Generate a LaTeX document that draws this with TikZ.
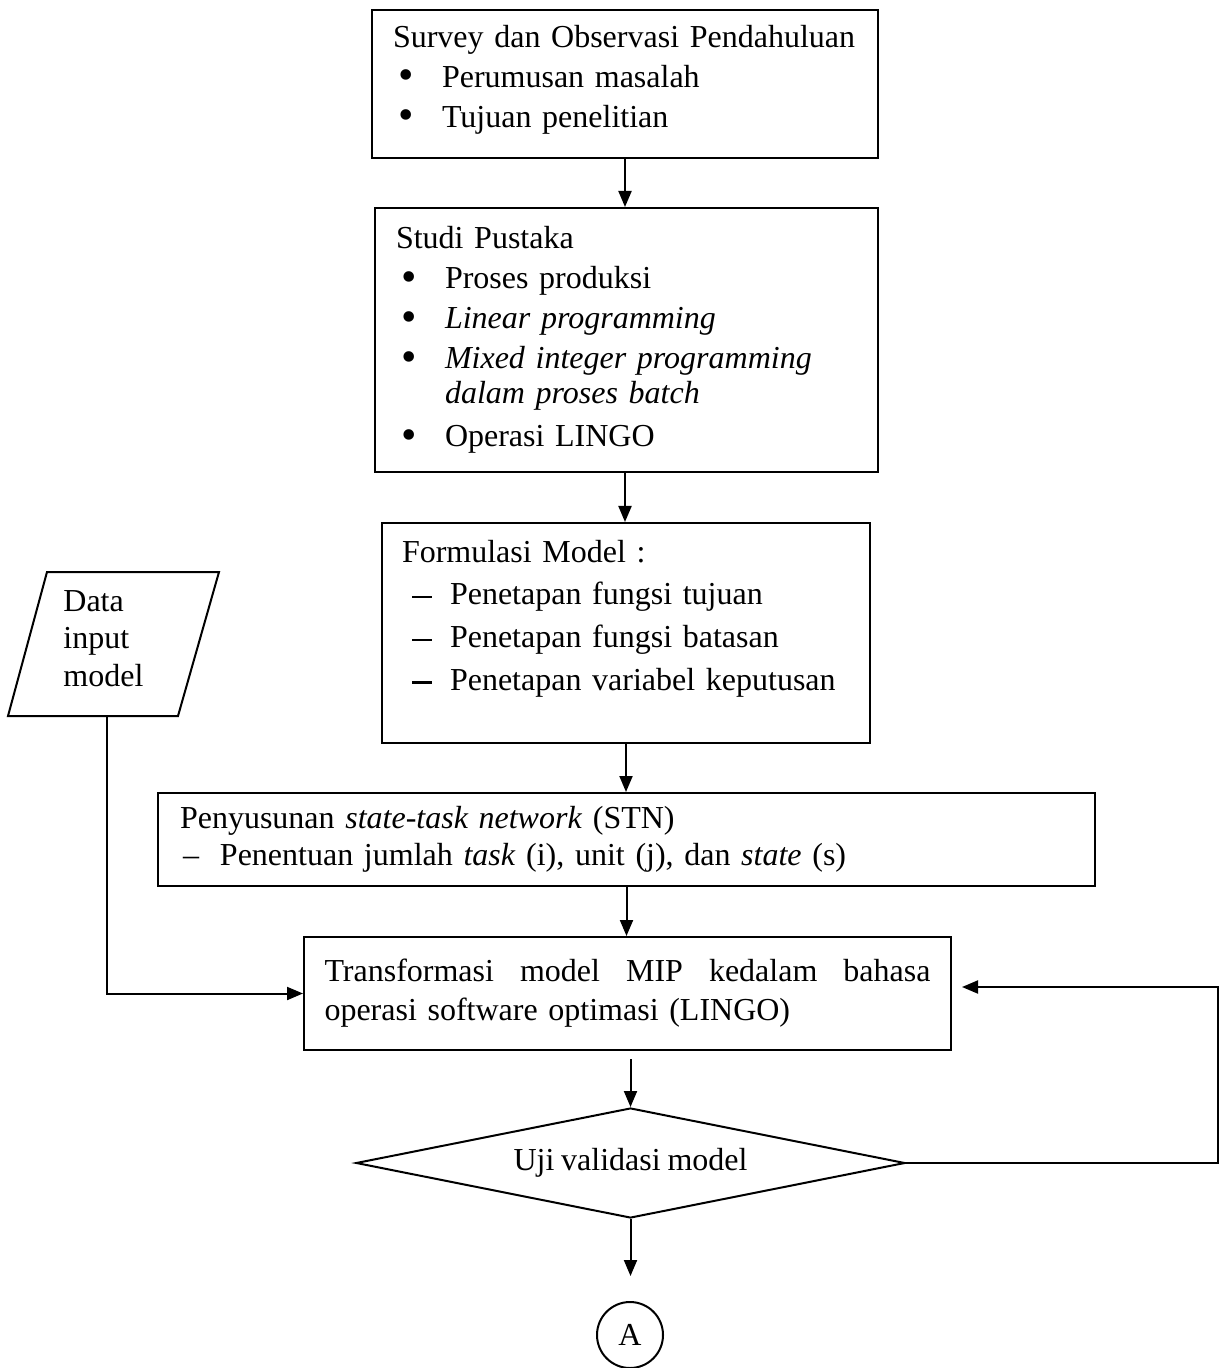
\documentclass[tikz,border=0pt]{standalone}
\usepackage{fontspec}
\setmainfont[WordSpace=0.85]{Liberation Serif}
\usetikzlibrary{arrows.meta,shapes.geometric,positioning}

\newcommand{\bul}{\makebox[24.5pt][l]{\hspace{2.5pt}\raisebox{-1.2pt}{\fontsize{22}{20}\selectfont\textbullet}}}
\newcommand{\mindash}{\makebox[24pt][l]{\hspace{5pt}\rule[3.2pt]{10pt}{1.2pt}}}

\tikzset{
    stepbox/.style={draw, rectangle, line width=1pt, align=left, inner sep=0pt,
        font=\fontsize{16}{20}\selectfont},
    flowline/.style={line width=1pt, -{Triangle[length=8pt,width=6.5pt]}}
}

\begin{document}
\begin{tikzpicture}[x=0.5pt,y=-0.5pt]

                \useasboundingbox (0,0) rectangle (1222,1368);

                % Process boxes
                \node[stepbox, minimum width=253pt, minimum height=74pt, text width=232pt] (survey) at (625,84)
                    {Survey dan Observasi Pendahuluan\\
                     \bul Perumusan masalah\\
                     \bul Tujuan penelitian\\[-12.5pt]\mbox{}};
                \node[stepbox, minimum width=251.5pt, minimum height=132pt, text width=230.5pt] (pustaka) at (626.5,340)
                    {Studi Pustaka\\
                     \bul Proses produksi\\
                     \bul \textit{Linear programming}\\
                     \bul \textit{Mixed integer programming}\\[-2.5pt]
                     \hspace*{24.5pt}\textit{dalam proses batch}\\[1.5pt]
                     \bul Operasi LINGO};
                \node[stepbox, minimum width=244pt, minimum height=110pt, text width=224pt] (formulasi) at (626,633)
                    {Formulasi Model :\\[1.3pt]
                     \mindash Penetapan fungsi tujuan\\[1.3pt]
                     \mindash Penetapan fungsi batasan\\[1.3pt]
                     \mindash Penetapan variabel keputusan\\[-2pt]\mbox{}};
                \node[stepbox, minimum width=468.5pt, minimum height=46.5pt, text width=446.5pt] (stn) at (626.5,839.5)
                    {Penyusunan \textit{state-task network} (STN)\\[-1.5pt]
                     \makebox[20pt][l]{\hspace{1.5pt}--}Penentuan jumlah \textit{task} (i), unit (j), dan \textit{state} (s)};
                \node[stepbox, minimum width=323.5pt, minimum height=56.5pt, text width=303pt] (trans) at (627.5,993.5)
                    {Transformasi\hfill model\hfill MIP\hfill kedalam\hfill bahasa\\[-0.5pt]
                     operasi software optimasi (LINGO)};

                % Decision and connector
                \node[draw, diamond, aspect=5, line width=1pt, inner sep=0pt, minimum width=274.5pt, minimum height=55pt,
                    font=\fontsize{16}{20}\selectfont] (uji) at (630.5,1163) {Uji validasi model};
                \node[draw, circle, line width=1pt, inner sep=0pt, minimum size=33pt,
                    font=\fontsize{16}{20}\selectfont] (conA) at (630,1335) {A};

                % Data input
                \node[align=left, anchor=north west, inner sep=0pt, font=\fontsize{16}{18.75}\selectfont] (datain) at (63,590)
                    {Data\\input\\model};
                \draw[line width=1pt] (47,572) -- (219,572) -- (178,716) -- (8,716) -- cycle;
                \coordinate (dataout) at (107,716);
                \coordinate (loop) at (1218,1163);

                % Connectors
                \draw[flowline] (survey.south) -- (survey.south |- pustaka.north);
                \draw[flowline] (pustaka.south -| survey.south) -- (survey.south |- formulasi.north);
                \draw[flowline] (formulasi.south) -- (formulasi.south |- stn.north);
                \draw[flowline] (stn.south) -- (stn.south |- trans.north);
                \draw[flowline, shorten <=4pt] (trans.south -| uji.north) -- (uji.north);
                \draw[flowline] (uji.south) -- ++(0,57);
                \draw[flowline] (dataout) |- (trans.west);
                \draw[flowline, shorten >=5pt] (uji.east) -- (loop) |- ([yshift=3.25pt]trans.east);

\end{tikzpicture}
\end{document}
